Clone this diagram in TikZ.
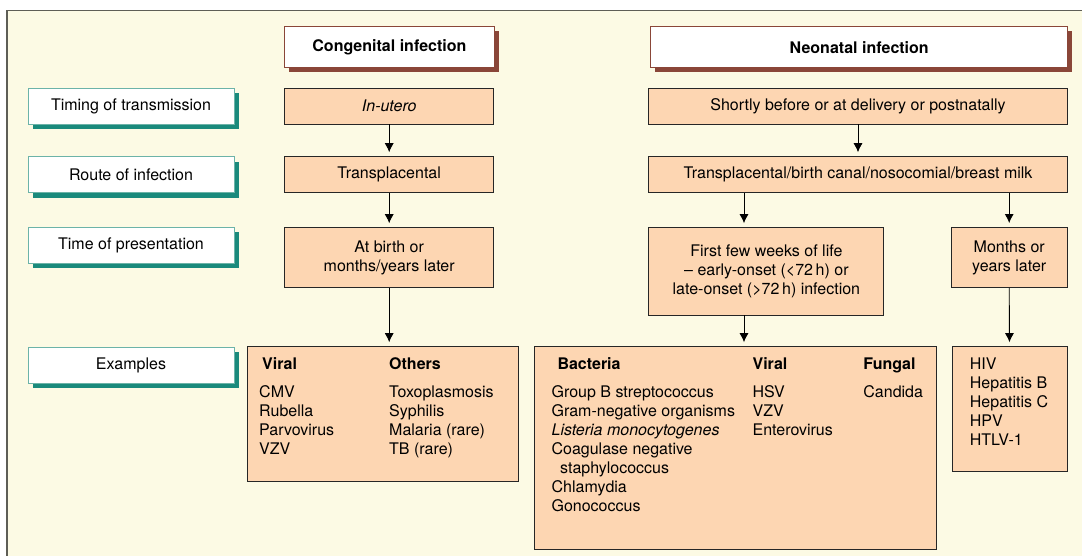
\documentclass[tikz,border=0pt]{standalone}
\usepackage{fontspec}
\setmainfont{TeX Gyre Heros}
\usetikzlibrary{arrows.meta, shadows}

\begin{document}
\begin{tikzpicture}[
  x=1pt, y=-1pt,
  font=\fontsize{16}{19}\selectfont,
  >={Latex[length=9pt,width=9pt]},
  hdrbox/.style={draw=cBrown, line width=0.8pt, fill=white, inner sep=0pt,
    minimum height=41pt, font=\fontsize{16}{19}\selectfont\bfseries,
    drop shadow={shadow xshift=4.5pt, shadow yshift=-4.5pt, fill=cBrown, opacity=1}},
  rowlabel/.style={draw=cTealLine, line width=0.8pt, fill=white, inner sep=0pt,
    minimum width=206pt, minimum height=36pt,
    drop shadow={shadow xshift=5pt, shadow yshift=-5pt, fill=cTeal, opacity=1}},
  peach/.style={draw=black!85, line width=0.9pt, fill=cPeach, inner sep=0pt,
    align=center},
  flow/.style={black, line width=0.9pt, ->, shorten >=4pt},
  item/.style={anchor=base west, inner sep=0pt},
  head/.style={item, font=\fontsize{16}{19}\selectfont\bfseries},
]
\definecolor{cCream}{HTML}{FCFAE4}
\definecolor{cFrame}{HTML}{5E5E56}
\definecolor{cPeach}{HTML}{FDD6B2}
\definecolor{cBrown}{HTML}{8A4638}
\definecolor{cTeal}{HTML}{1A8A7C}
\definecolor{cTealLine}{HTML}{6CB3A8}

\useasboundingbox (0,0) rectangle (1082,556);

% ============================================================================
% panel: cream ground, frame open to the right and bottom
% ============================================================================
\fill[cCream] (7,10.5) rectangle (1082,556);
\draw[cFrame, line width=1.5pt] (7,556) |- (1082,10.5);

% ============================================================================
% column headers
% ============================================================================
\node[hdrbox, minimum width=210.8pt] (congHdr) at (389.4,47.2) {Congenital infection};
\node[hdrbox, minimum width=417pt] (neoHdr) at (859.2,47.2) {Neonatal infection};

% ============================================================================
% row labels (teal shadow)
% ============================================================================
\node[rowlabel] (lTiming) at (131,106)   {Timing of transmission};
\node[rowlabel] (lRoute)  at (131,174.7) {Route of infection};
\node[rowlabel] (lPres)   at (131,245.5) {Time of presentation};
\node[rowlabel] (lEx)     at (131,365)   {Examples};

% ============================================================================
% congenital column
% ============================================================================
\node[peach, minimum width=208.7pt, minimum height=36pt] (cTiming) at (389.2,106)
  {\itshape In-utero};
\node[peach, minimum width=208.7pt, minimum height=36pt] (cRoute) at (389.2,174.7)
  {Transplacental};
\node[peach, minimum width=208.7pt, minimum height=60pt] (cPres) at (389.2,257.7)
  {At birth or\\months/years later};
\node[peach, minimum width=271.4pt, minimum height=134.3pt] (cEx) at (382.9,413.8) {};

\draw[flow] (cTiming.south) -- (cRoute.north);
\draw[flow] (cRoute.south) -- (cPres.north);
\draw[flow] (cPres.south) -- (cPres.south |- cEx.north);

% examples, two columns
\node[head] (cExViral) at (262,369.8) {Viral};
\node[head] (cExOther) at (389,369.8) {Others};
\foreach \t [count=\i from 0] in {CMV, Rubella, Parvovirus, VZV}
  \node[item] (cVir\i) at (259,397.2+19*\i) {\t};
\foreach \t [count=\i from 0] in {Toxoplasmosis, Syphilis, Malaria (rare), TB (rare)}
  \node[item] (cOth\i) at (389,397.2+19*\i) {\t};

% ============================================================================
% neonatal column
% ============================================================================
\node[peach, minimum width=418.2pt, minimum height=36pt] (nTiming) at (858,106)
  {Shortly before or at delivery or postnatally};
\node[peach, minimum width=418.2pt, minimum height=36pt] (nRoute) at (858,174.7)
  {Transplacental/birth canal/nosocomial/breast milk};
\node[peach, minimum width=235pt, minimum height=87.3pt] (nEarly) at (766.4,271.3)
  {First few weeks of life\\-- early-onset (<72\,h) or\\late-onset (>72\,h) infection};
\node[peach, minimum width=115.7pt, minimum height=60pt] (nLate) at (1009.2,257.5)
  {Months or\\years later};
\node[peach, minimum width=402.5pt, minimum height=202.3pt] (nEx) at (735.2,447.8) {};
\node[peach, minimum width=115pt, minimum height=124.3pt] (nLateEx) at (1009.5,408.8) {};

\coordinate (nSplit) at (744,0);
\draw[flow] (nTiming.south) -- (nRoute.north);
\draw[flow] (nRoute.south -| nSplit) -- (nEarly.north -| nSplit);
\draw[flow] (nRoute.south -| nLate) -- (nLate.north);
\draw[flow] (nEarly.south -| nSplit) -- (nEx.north -| nSplit);
\draw[flow] (nLate.south) -- (nLateEx.north);

% examples, three columns
\node[head] (nExBact) at (557.3,369.8) {Bacteria};
\node[head] (nExViral) at (752.4,369.8) {Viral};
\node[head] (nExFung) at (863.2,369.8) {Fungal};
\foreach \t [count=\i from 0] in {Group B streptococcus, Gram-negative organisms,
    \textit{Listeria monocytogenes}, Coagulase negative,
    \hspace*{8.6pt}staphylococcus, Chlamydia, Gonococcus}
  \node[item] (nBac\i) at (551.4,397.2+19*\i) {\t};
\foreach \t [count=\i from 0] in {HSV, VZV, Enterovirus}
  \node[item] (nVir\i) at (752.4,397.2+19*\i) {\t};
\node[item] (nFun0) at (863.2,397.2) {Candida};

% late examples
\foreach \t [count=\i from 0] in {HIV, Hepatitis B, Hepatitis C, HPV, HTLV-1}
  \node[item] (nLat\i) at (969.7,369.8+19*\i) {\t};

\end{tikzpicture}
\end{document}
